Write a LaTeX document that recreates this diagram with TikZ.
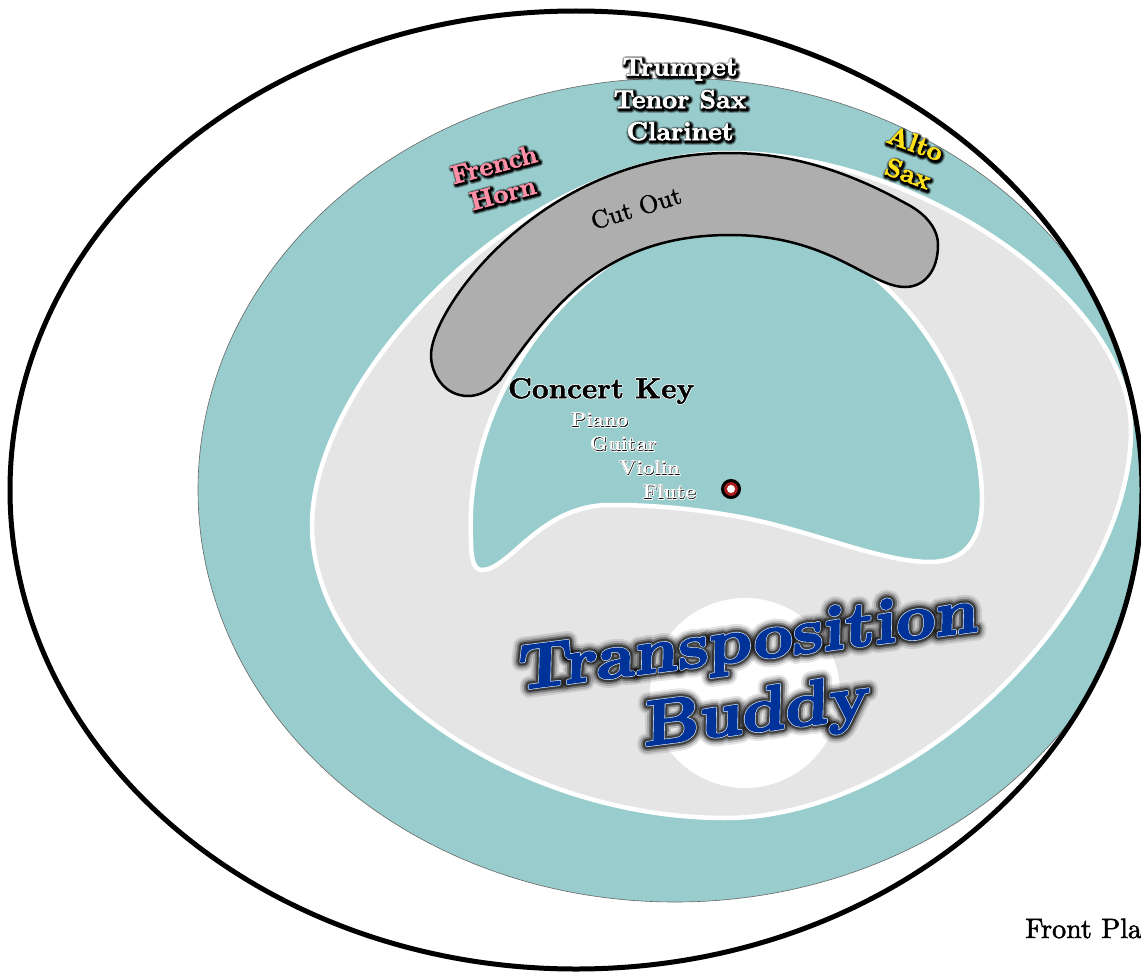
\documentclass[tikz,border=0pt]{standalone}
\usepackage{fontspec}
\newfontfamily\wfont[Extension=.otf]{lmroman10-bold}
\newfontfamily\rfont[Extension=.otf]{lmroman10-regular}
\newfontfamily\fatfont[Extension=.otf,FakeSlant=0.15,FakeStretch=1.08]{lmroman10-bold}
\definecolor{teal1}{HTML}{99CCCC}
\definecolor{gray1}{HTML}{E5E5E5}
\definecolor{cut1}{HTML}{AEAEAE}
\definecolor{pink1}{HTML}{FF8FA6}
\definecolor{yellow1}{HTML}{FFE11A}
\definecolor{blue1}{HTML}{003399}
\definecolor{red1}{HTML}{B02020}
% #1 opacity, #2 stroke rgb, #3 stroke width, #4 text
\newcommand{\ST}[4]{\rlap{\special{pdf:code q}\pgfsetstrokeopacity{#1}\pgfsetfillopacity{#1}\special{pdf:code #2 RG #3 w 1 j 1 J 2 Tr}#4\special{pdf:code Q}}}
\newcommand{\shft}[3]{\rlap{\kern#1pt\raisebox{#2pt}{#3}}}
\newcommand{\darkshadow}[3]{%
  \shft{1.5}{-1.5}{\color{black}\ST{.3}{0 0 0}{6.5}{#1}}%
  \shft{1.5}{-1.5}{\color{black}\ST{.5}{0 0 0}{4.5}{#1}}%
  \shft{1.5}{-1.5}{\color{black}\ST{1}{0 0 0}{2.6}{#1}}%
  {\color{#2}\ST{1}{#3}{.6}{#1}}\phantom{#1}}
\newcommand{\smalllabel}[1]{%
  {\color{black}\ST{1}{1 1 1}{1.5}{#1}}%
  \rlap{\color{black}#1}%
  \shft{-.6}{.6}{\color{white}#1}\phantom{#1}}
\newcommand{\keylabel}[1]{%
  {\color{black}\ST{1}{1 1 1}{2}{#1}}%
  {\color{black}\ST{1}{0 0 0}{.5}{#1}}\phantom{#1}}
\newcommand{\buddy}[1]{%
  {\color{black}\ST{.1}{0 0 0}{19}{#1}}%
  {\color{black}\ST{.16}{0 0 0}{15}{#1}}%
  {\color{black}\ST{.3}{0 0 0}{11}{#1}}%
  {\color{black}\ST{.5}{0 0 0}{7.5}{#1}}%
  {\color{blue1}\ST{1}{.85 .92 1}{3}{#1}}%
  {\color{blue1}\ST{1}{0 .2 .6}{1.8}{#1}}\phantom{#1}}
\tikzset{
  label/.style={inner sep=0pt,font=\wfont},
  region/.style={draw=white,line width=4.5pt,line join=round},
}
\begin{document}
\begin{tikzpicture}[x=1pt,y=-1pt]
\useasboundingbox (0,0) rectangle (1141,974);
\clip (0,0) rectangle (1141,974);
\fill[white] (0,0) rectangle (1141,974);
% teal disc, held inside the outer ring
\begin{scope}
\clip (576,490) ellipse [x radius=566,y radius=479];
\draw[fill=teal1,draw=black!60,line width=.6pt] (675,490) ellipse [x radius=477,y radius=412];
\end{scope}
% grey body
\draw[region,fill=gray1] (730,153) .. controls (920,153) and (1131,300) .. (1131,430)
  .. controls (1131,600) and (920,818) .. (725,818)
  .. controls (520,818) and (312,680) .. (312,525)
  .. controls (312,380) and (520,153) .. (730,153) -- cycle;
\fill[white] (745,693) circle [radius=95];
% concert window
\draw[region,fill=teal1] (730,222) .. controls (880,222) and (982,380) .. (982,500)
  .. controls (982,545) and (960,562) .. (930,562)
  .. controls (880,562) and (810,530) .. (740,517)
  .. controls (690,508) and (650,505) .. (610,505)
  .. controls (540,505) and (510,570) .. (482,570)
  .. controls (474,570) and (471,560) .. (471,540)
  .. controls (462,380) and (600,222) .. (730,222) -- cycle;
% outer ring
\draw[black,line width=5pt] (576,490) ellipse [x radius=566,y radius=479];
% cut out
\draw[black,line width=2.5pt,fill=cut1] (431,355) .. controls (431,310) and (540,153) .. (730,153)
  .. controls (800,153) and (860,178) .. (905,203)
  .. controls (925,213) and (938,228) .. (938,245)
  .. controls (938,270) and (925,287) .. (905,287)
  .. controls (870,287) and (830,235) .. (730,235)
  .. controls (610,235) and (555,300) .. (500,380)
  .. controls (490,390) and (480,396) .. (468,396)
  .. controls (445,396) and (431,375) .. (431,355) -- cycle;
\node[font=\rfont\fontsize{25}{25}\selectfont,rotate=17,inner sep=0pt] (cutout) at (636,208) {\special{pdf:code q 0 0 0 RG .4 w 2 Tr}Cut Out\special{pdf:code Q}};
% labels
\node[label,font=\wfont\fontsize{26}{26}\selectfont] (trumpet) at (680,70) {\darkshadow{Trumpet}{white}{1 1 1}};
\node[label,font=\wfont\fontsize{26}{26}\selectfont] (tenor) at (680,100) {\darkshadow{Tenor Sax}{white}{1 1 1}};
\node[label,font=\wfont\fontsize{26}{26}\selectfont] (clarinet) at (680,132) {\darkshadow{Clarinet}{white}{1 1 1}};
\node[label,rotate=15,font=\wfont\fontsize{26}{26}\selectfont] (french) at (494,165) {\darkshadow{French}{pink1}{1 .56 .65}};
\node[label,rotate=15,font=\wfont\fontsize{26}{26}\selectfont] (horn) at (503,194) {\darkshadow{Horn}{pink1}{1 .56 .65}};
\node[label,rotate=-20,font=\wfont\fontsize{26}{26}\selectfont] (alto) at (915,144) {\darkshadow{Alto}{yellow1}{1 .88 .1}};
\node[label,rotate=-20,font=\wfont\fontsize{26}{26}\selectfont] (sax) at (908,174) {\darkshadow{Sax}{yellow1}{1 .88 .1}};
\node[label,font=\wfont\fontsize{29}{29}\selectfont] (concert) at (601,391) {\keylabel{Concert Key}};
\node[label,font=\wfont\fontsize{20}{20}\selectfont] (piano) at (600,420) {\smalllabel{Piano}};
\node[label,font=\wfont\fontsize{20}{20}\selectfont] (guitar) at (624,444) {\smalllabel{Guitar}};
\node[label,font=\wfont\fontsize{20}{20}\selectfont] (violin) at (650,468) {\smalllabel{Violin}};
\node[label,font=\wfont\fontsize{20}{20}\selectfont] (flute) at (670,492) {\smalllabel{Flute}};
\node[circle,draw=black,line width=3pt,fill=red1,minimum size=17pt,inner sep=0pt] (pivot) at (731,489) {};
\fill[white] (pivot.center) circle [radius=4];
% title
\node[inner sep=0pt,rotate=7.3,font=\fatfont\fontsize{63}{63}\selectfont] (title1) at (746,645) {\buddy{Transposition}};
\node[inner sep=0pt,rotate=7.3,font=\fatfont\fontsize{63}{63}\selectfont] (title2) at (755,716) {\buddy{Buddy}};
\node[anchor=base west,inner sep=0pt,font=\rfont\fontsize{28}{28}\selectfont] (front) at (1025,938) {\special{pdf:code q 0 0 0 RG .5 w 2 Tr}Front Pla\special{pdf:code Q}};
\end{tikzpicture}
\end{document}
